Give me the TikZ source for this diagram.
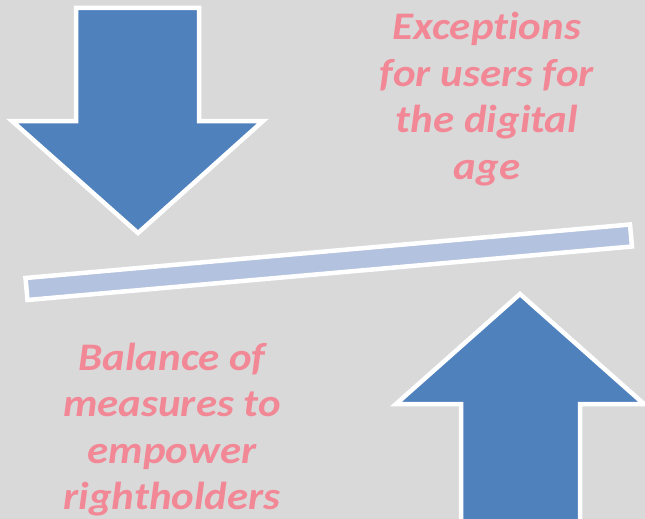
\documentclass[tikz,border=0pt]{standalone}
\usepackage{fontspec}
\setmainfont{Carlito}[FakeStretch=1.1, Ligatures=NoCommon]
\usepackage{tikz}
\usetikzlibrary{positioning}
\usepackage{xcolor}
\definecolor{backgray}{RGB}{217, 217, 217}
\definecolor{arrowblue}{RGB}{79, 129, 189}
\definecolor{barblue}{RGB}{179, 194, 222}
\definecolor{textpink}{RGB}{242, 136, 150}

\begin{document}
\begin{tikzpicture}[x=1pt, y=-1pt,
    bigarrow/.style={fill=arrowblue, draw=white, line width=4.5pt, line join=miter},
    beam/.style={fill=barblue, draw=white, line width=4.5pt},
    pinktext/.style={text=textpink, align=center, font=\fontsize{39}{46.5}\selectfont\bfseries\itshape}]
    \fill[backgray] (0,0) rectangle (645,519);
    \useasboundingbox (0,0) rectangle (645,519);
    
    % arrow pressing down
    \draw[bigarrow] (76,8) -- (199,8) -- (199,121) -- (263,121) -- (138,233)
        -- (12,121) -- (76,121) -- cycle;
    
    % arrow pushing up
    \draw[bigarrow] (461,530) -- (461,404) -- (396,404) -- (520,294)
        -- (644,404) -- (580,404) -- (580,530);
    
    % the balance beam
    \draw[beam] (25.5,278) -- (630,224.5) -- (632,246.5) -- (27.5,300) -- cycle;
    
    \node[pinktext] (users) at (487,99) {Exceptions\\for users for\\the digital\\age};
    \node[pinktext] (holders) at (172,429.5) {Balance of\\measures to\\empower\\rightholders};
\end{tikzpicture}
\end{document}
